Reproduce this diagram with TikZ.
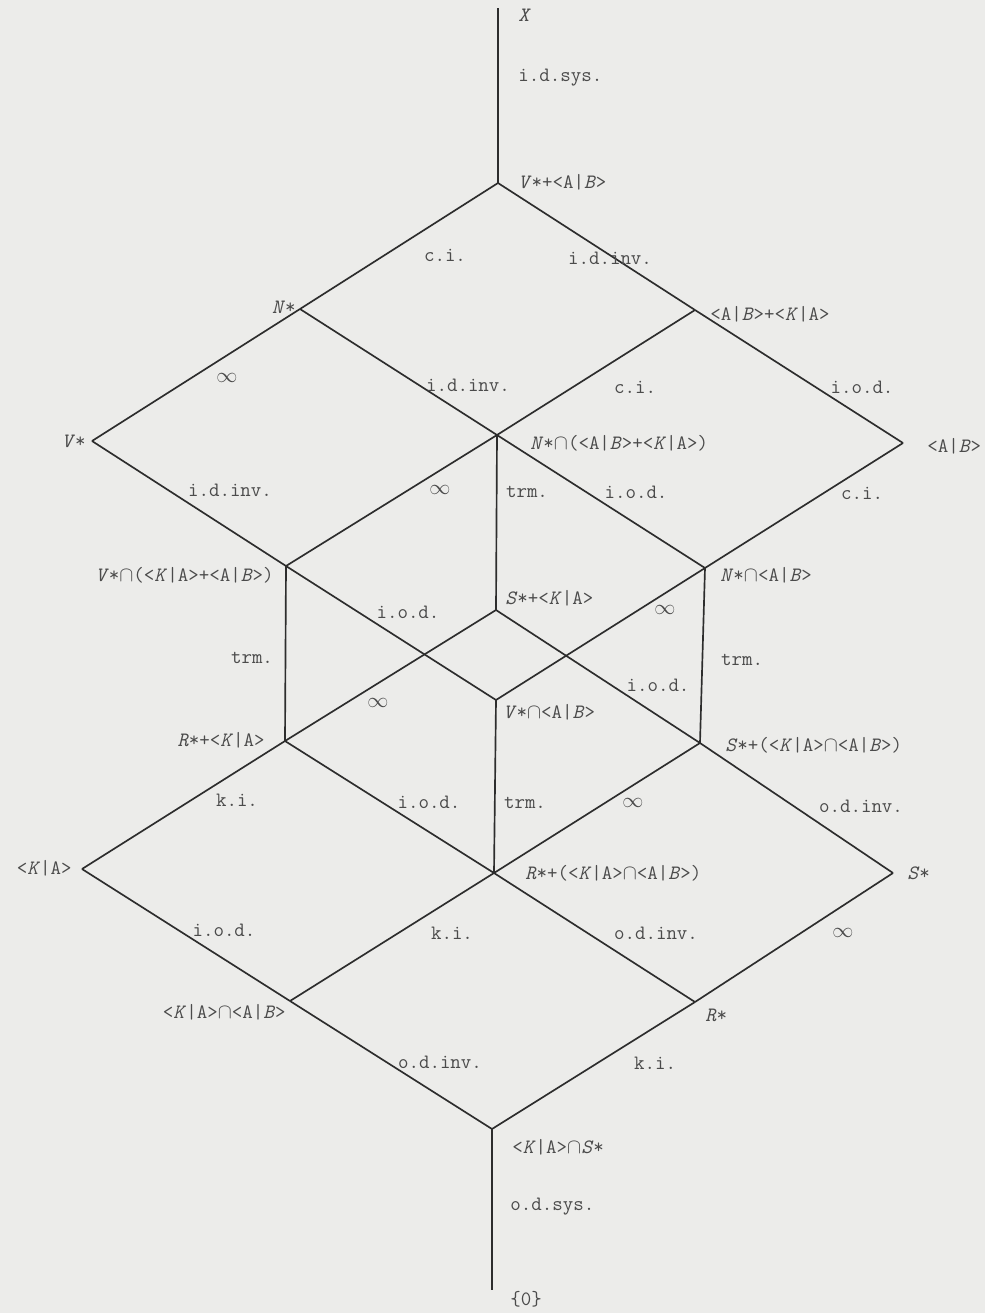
\documentclass[tikz,border=0pt]{standalone}
\usepackage{tikz}
\definecolor{paper}{RGB}{236,236,234}
\definecolor{ink}{RGB}{45,45,45}
\definecolor{txt}{RGB}{75,75,75}
\newcommand{\KAket}{<\textit{K}|A>}
\newcommand{\ABket}{<A|\textit{B}>}
\newcommand{\starred}[1]{\textit{#1}*}
\newcommand{\meet}{$\cap$}

\begin{document}
\begin{tikzpicture}[x=0.02cm,y=-0.02cm,
      every node/.style={font=\fontsize{11.6}{13}\selectfont\ttfamily,text=txt,inner sep=0pt},
      edge/.style={draw=ink,line width=0.95pt},
      vlbl/.style={anchor=west},
      llbl/.style={anchor=east}]
      \fill[paper] (0,0) rectangle (985,1313);
      \useasboundingbox (0,0) rectangle (985,1313);
      % lattice points
      \coordinate (top) at (498,8);
      \coordinate (vab) at (498,183);
      \coordinate (n) at (300,309);
      \coordinate (abka) at (695,310);
      \coordinate (v) at (92,441);
      \coordinate (nabka) at (497,435);
      \coordinate (ab) at (903,443);
      \coordinate (vkaab) at (286,566);
      \coordinate (nab) at (705,568);
      \coordinate (ska) at (496,610);
      \coordinate (vnab) at (496,700);
      \coordinate (rka) at (285,741);
      \coordinate (skab) at (700,743);
      \coordinate (ka) at (82,869);
      \coordinate (rkab) at (494,873);
      \coordinate (s) at (893,873);
      \coordinate (kab) at (290,1001);
      \coordinate (r) at (695,1002);
      \coordinate (kas) at (492,1129);
      \coordinate (zero) at (492,1290);
      % edges
      \draw[edge] (top) -- (vab);
      \draw[edge] (vab) -- (n);
      \draw[edge] (vab) -- (abka);
      \draw[edge] (n) -- (v);
      \draw[edge] (n) -- (nabka);
      \draw[edge] (abka) -- (nabka);
      \draw[edge] (abka) -- (ab);
      \draw[edge] (v) -- (vkaab);
      \draw[edge] (nabka) -- (vkaab);
      \draw[edge] (nabka) -- (ska);
      \draw[edge] (nabka) -- (nab);
      \draw[edge] (ab) -- (nab);
      \draw[edge] (vkaab) -- (rka);
      \draw[edge] (vkaab) -- (vnab);
      \draw[edge] (ska) -- (rka);
      \draw[edge] (ska) -- (skab);
      \draw[edge] (nab) -- (vnab);
      \draw[edge] (nab) -- (skab);
      \draw[edge] (vnab) -- (rkab);
      \draw[edge] (rka) -- (ka);
      \draw[edge] (rka) -- (rkab);
      \draw[edge] (skab) -- (rkab);
      \draw[edge] (skab) -- (s);
      \draw[edge] (ka) -- (kab);
      \draw[edge] (rkab) -- (kab);
      \draw[edge] (rkab) -- (r);
      \draw[edge] (s) -- (r);
      \draw[edge] (kab) -- (kas);
      \draw[edge] (r) -- (kas);
      \draw[edge] (kas) -- (zero);
      % point labels
      \node[vlbl] (top-l) at (518,15) {\textit{X}};
      \node[vlbl] (vab-l) at (518,182) {\starred{V}+\ABket};
      \node[llbl] (n-l) at (296,307) {\starred{N}};
      \node[vlbl] (abka-l) at (710,314) {\ABket+\KAket};
      \node[llbl] (v-l) at (86,441) {\starred{V}};
      \node[vlbl] (nabka-l) at (530,443) {\starred{N}\meet(\ABket+\KAket)};
      \node[vlbl] (ab-l) at (927,446) {\ABket};
      \node[llbl] (vkaab-l) at (274,575) {\starred{V}\meet(\KAket+\ABket)};
      \node[vlbl] (nab-l) at (720,575) {\starred{N}\meet\ABket};
      \node[vlbl] (ska-l) at (505,598) {\starred{S}+\KAket};
      \node[vlbl] (vnab-l) at (503,712) {\starred{V}\meet\ABket};
      \node[llbl] (rka-l) at (265,740) {\starred{R}+\KAket};
      \node[vlbl] (skab-l) at (725,745) {\starred{S}+(\KAket\meet\ABket)};
      \node[llbl] (ka-l) at (72,868) {\KAket};
      \node[vlbl] (rkab-l) at (525,873) {\starred{R}+(\KAket\meet\ABket)};
      \node[vlbl] (s-l) at (907,873) {\starred{S}};
      \node[llbl] (kab-l) at (286,1012) {\KAket\meet\ABket};
      \node[vlbl] (r-l) at (705,1015) {\starred{R}};
      \node[vlbl] (kas-l) at (512,1147) {\KAket\meet\starred{S}};
      \node[vlbl] (zero-l) at (510,1299) {\{0\}};
      % edge labels
      \node[vlbl] (idsys) at (518,78) {i.d.sys.};
      \node (ci1) at (445,255) {c.i.};
      \node (idinv1) at (610,258) {i.d.inv.};
      \node (inf1) at (227,378) {$\infty$};
      \node (idinv2) at (468,385) {i.d.inv.};
      \node (ci2) at (635,387) {c.i.};
      \node (iod1) at (862,387) {i.o.d.};
      \node (idinv3) at (230,490) {i.d.inv.};
      \node (inf2) at (440,490) {$\infty$};
      \node (trm1) at (527,492) {trm.};
      \node (iod2) at (636,492) {i.o.d.};
      \node (ci3) at (862,493) {c.i.};
      \node (iod3) at (408,612) {i.o.d.};
      \node (inf3) at (665,610) {$\infty$};
      \node (trm2) at (252,658) {trm.};
      \node (trm3) at (742,660) {trm.};
      \node (iod4) at (658,685) {i.o.d.};
      \node (inf4) at (378,703) {$\infty$};
      \node (ki1) at (237,800) {k.i.};
      \node (iod5) at (429,802) {i.o.d.};
      \node (trm4) at (525,803) {trm.};
      \node (inf5) at (633,803) {$\infty$};
      \node (odinv1) at (861,806) {o.d.inv.};
      \node (iod6) at (224,930) {i.o.d.};
      \node (ki2) at (452,933) {k.i.};
      \node (odinv2) at (656,933) {o.d.inv.};
      \node (inf6) at (843,933) {$\infty$};
      \node (odinv3) at (440,1062) {o.d.inv.};
      \node (ki3) at (655,1063) {k.i.};
      \node[vlbl] (odsys) at (510,1207) {o.d.sys.};
    \end{tikzpicture}
\end{document}
